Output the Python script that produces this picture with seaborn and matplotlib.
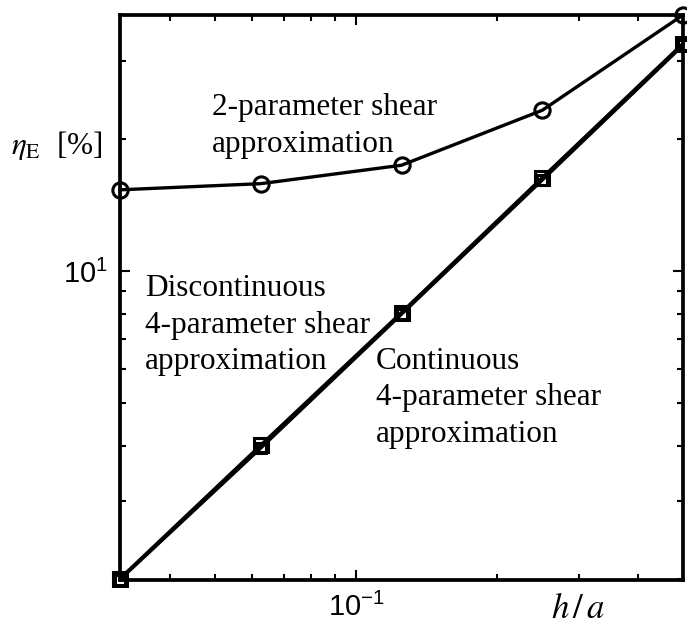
import matplotlib
matplotlib.use("Agg")
import matplotlib.pyplot as plt
import matplotlib.ticker as mticker
import seaborn as sns

# h/a ratios and error values
h_a = [1/32, 1/16, 1/8, 1/4, 1/2]
eta_2param = [15.3, 15.8, 17.4, 23.2, 38.2]
eta_4param_cont = [1.99, 3.96, 7.98, 16.1, 32.6]
eta_4param_disc = [2.0, 4.02, 8.05, 16.3, 32.9]

sns.set_style("ticks")
plt.rcParams["font.family"] = ["Liberation Sans", "DejaVu Sans"]
plt.rcParams["mathtext.fontset"] = "stix"
for k in ["text.color", "axes.edgecolor", "xtick.color", "ytick.color",
          "axes.labelcolor"]:
    plt.rcParams[k] = "black"

W, H = 687, 626
fig = plt.figure(figsize=(W / 100, H / 100), dpi=100)
ax = fig.add_axes([120 / W, 1 - 580 / H, (683 - 120) / W, (580 - 15) / H])

kw = dict(color="black", linewidth=2.4, markerfacecolor="none",
          markeredgecolor="black", markeredgewidth=2.2, clip_on=False, ax=ax)
sns.lineplot(x=h_a, y=eta_2param, marker="o", markersize=11, **kw)
sns.lineplot(x=h_a, y=eta_4param_disc, marker="s", markersize=10, **kw)
sns.lineplot(x=h_a, y=eta_4param_cont, marker="s", markersize=7, **kw)

ax.set_xscale("log")
ax.set_yscale("log")
ax.set_xlim(1/32, 1/2)
ax.set_ylim(1.985, 38.2)
ax.xaxis.set_minor_formatter(mticker.NullFormatter())
ax.yaxis.set_minor_formatter(mticker.NullFormatter())
ax.tick_params(which="both", direction="in", top=True, right=True,
               labelsize=21, pad=9, width=1.5, colors="black")
ax.tick_params(which="major", length=7)
ax.tick_params(which="minor", length=4)
for s in ax.spines.values():
    s.set_linewidth(2.7)
    s.set_color("black")

serif = dict(family=["Liberation Serif", "DejaVu Serif"], fontsize=22.5,
             linespacing=1.32, va="center", ha="left", color="black")
fig.text(212 / W, 1 - 126 / H, "2-parameter shear\napproximation", **serif)
fig.text(145 / W, 1 - 325 / H,
         "Discontinuous\n4-parameter shear\napproximation", **serif)
fig.text(376 / W, 1 - 398 / H,
         "Continuous\n4-parameter shear\napproximation", **serif)

fig.text(11 / W, 1 - 146 / H, r"$\eta_{\mathrm{E}}$  [%]",
         **{**serif, "fontsize": 22.5})
fig.text(578 / W, 1 - 609 / H, r"$h\,/\,a$", fontsize=25,
         ha="center", va="center", color="black")

fig.savefig("out.png", dpi=100, facecolor="white")
